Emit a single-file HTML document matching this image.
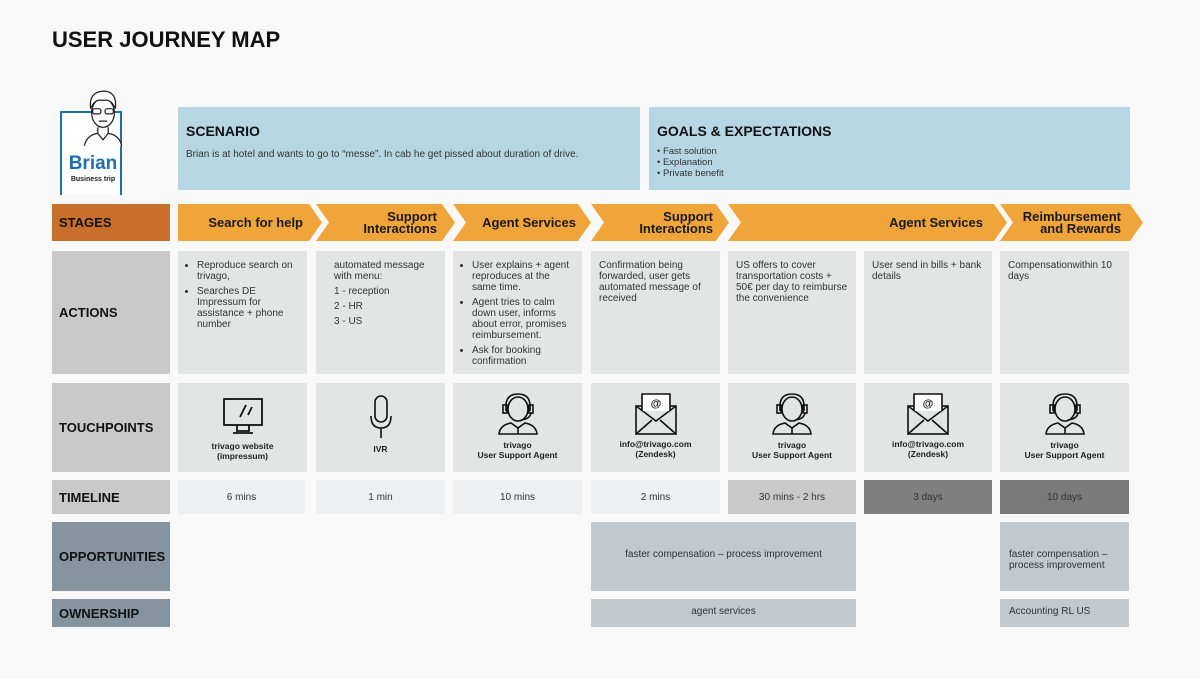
<!DOCTYPE html>
<html><head><meta charset="utf-8"><style>
*{margin:0;padding:0;box-sizing:border-box}
body{width:1200px;height:679px;background:#f9f9f9;font-family:"Liberation Sans",sans-serif;position:relative;overflow:hidden;color:#222}
.a{position:absolute}
.lab{position:absolute;left:52px;width:118px;font-size:13px;color:#111;padding-left:7px;display:flex;align-items:center;font-weight:bold}
.cell{position:absolute;background:#e3e4e4;font-size:10px;line-height:11px;color:#333}
.arr{position:absolute;top:204px;height:37px;background:#f0a53a;color:#1a1a1a;font-size:13px;font-weight:bold;line-height:12px;display:flex;align-items:center;justify-content:flex-end;text-align:right}
.tl{position:absolute;top:480px;height:34px;font-size:10px;display:flex;align-items:center;justify-content:center;color:#333}
ul{padding-left:11px}li{margin-bottom:4px}
.tp{position:absolute;top:383px;height:89px;background:#e3e4e4;text-align:center;font-size:8.5px;font-weight:bold;line-height:10px;color:#222}
.tp svg{display:block;margin:12px auto 4px}
</style></head><body>
<div class="a" style="left:52px;top:27px;font-size:22px;font-weight:bold;color:#111">USER JOURNEY MAP</div>
<div class="a" style="left:60px;top:111px;width:62px;height:84px;border:2px solid #1e6fb0;border-bottom:none;background:#fff"></div>
<svg class="a" style="left:78px;top:88px" width="50" height="60" viewBox="0 0 44 58"><g fill="#fff" stroke="#222" stroke-width="1.2"><path d="M4 56 Q6 46 16 44 L28 44 Q38 46 40 56"/><path d="M17 38 v6 l5 6 5-6 v-6"/><ellipse cx="22" cy="24" rx="11" ry="14"/><path d="M10 20 Q8 4 22 3 Q36 3 34 20 Q30 10 22 12 Q14 10 10 20z"/><rect x="12" y="20" width="8" height="5" rx="2"/><rect x="24" y="20" width="8" height="5" rx="2"/><path d="M18 32 h8"/></g></svg>
<div class="a" style="left:60px;top:153px;width:66px;text-align:center;color:#1e6fb0;font-weight:bold;font-size:19px">Brian</div>
<div class="a" style="left:60px;top:176px;width:66px;text-align:center;font-size:7px;font-weight:bold">Business trip</div>
<div class="a" style="left:178px;top:107px;width:462px;height:83px;background:#b5d6e2;padding:16px 8px">
<div style="font-size:14px;font-weight:bold;color:#111">SCENARIO</div>
<div style="font-size:10px;margin-top:10px;color:#333">Brian is at hotel and wants to go to “messe”. In cab he get pissed about duration of drive.</div></div>
<div class="a" style="left:649px;top:107px;width:481px;height:83px;background:#b5d6e2;padding:16px 8px">
<div style="font-size:14px;font-weight:bold;color:#111">GOALS &amp; EXPECTATIONS</div>
<div style="font-size:9.5px;margin-top:7px;line-height:11px;color:#333">• Fast solution<br>• Explanation<br>• Private benefit</div></div>

<div class="lab" style="top:204px;height:37px;background:#c8702b">STAGES</div>
<div class="lab" style="top:251px;height:123px;background:#c9c9c9">ACTIONS</div>
<div class="lab" style="top:383px;height:89px;background:#c9c9c9">TOUCHPOINTS</div>
<div class="lab" style="top:480px;height:34px;background:#c9c9c9">TIMELINE</div>
<div class="lab" style="top:522px;height:69px;background:#85949e">OPPORTUNITIES</div>
<div class="lab" style="top:599px;height:28px;background:#85949e">OWNERSHIP</div>

<div class="arr" style="left:178px;width:144px;clip-path:polygon(0 0,131px 0,100% 50%,131px 100%,0 100%);padding-right:19px">Search for help</div>
<div class="arr" style="left:316px;width:139px;clip-path:polygon(0 0,126px 0,100% 50%,126px 100%,0 100%,13px 50%);padding-right:18px">Support<br>Interactions</div>
<div class="arr" style="left:453px;width:138px;clip-path:polygon(0 0,125px 0,100% 50%,125px 100%,0 100%,13px 50%);padding-right:15px">Agent Services</div>
<div class="arr" style="left:591px;width:138px;clip-path:polygon(0 0,125px 0,100% 50%,125px 100%,0 100%,13px 50%);padding-right:16px">Support<br>Interactions</div>
<div class="arr" style="left:728px;width:279px;clip-path:polygon(0 0,266px 0,100% 50%,266px 100%,0 100%,13px 50%);padding-right:24px">Agent Services</div>
<div class="arr" style="left:1000px;width:143px;clip-path:polygon(0 0,130px 0,100% 50%,130px 100%,0 100%,13px 50%);padding-right:22px">Reimbursement<br>and Rewards</div>

<div class="cell" style="left:178px;top:251px;width:129px;height:123px;padding:9px 8px 0 8px"><ul><li>Reproduce search on trivago,</li><li>Searches DE Impressum for assistance + phone number</li></ul></div>
<div class="cell" style="left:316px;top:251px;width:129px;height:123px;padding:9px 18px">automated message with menu:<div style="margin-top:4px">1 - reception</div><div style="margin-top:4px">2 - HR</div><div style="margin-top:4px">3 - US</div></div>
<div class="cell" style="left:453px;top:251px;width:129px;height:123px;padding:9px 8px"><ul><li>User explains + agent reproduces at the same time.</li><li>Agent tries to calm down user, informs about error, promises reimbursement.</li><li>Ask for booking confirmation</li></ul></div>
<div class="cell" style="left:591px;top:251px;width:129px;height:123px;padding:9px 8px">Confirmation being forwarded, user gets automated message of received</div>
<div class="cell" style="left:728px;top:251px;width:128px;height:123px;padding:9px 8px">US offers to cover transportation costs + 50€ per day to reimburse the convenience</div>
<div class="cell" style="left:864px;top:251px;width:128px;height:123px;padding:9px 8px">User send in bills + bank details</div>
<div class="cell" style="left:1000px;top:251px;width:129px;height:123px;padding:9px 8px">Compensationwithin 10 days</div>

<svg width="0" height="0" style="position:absolute"><defs>
<g id="mail" fill="none" stroke="#111" stroke-width="1.6"><rect x="1" y="13" width="40" height="28"/><path d="M1 13 L21 28 L41 13 M1 41 L17 27 M41 41 L25 27"/><path d="M7 18 V1 H35 V18" fill="#fff"/><text x="21" y="14" font-size="11" text-anchor="middle" fill="#111" stroke="none" font-family="Liberation Sans">@</text></g>
<g id="agent" fill="none" stroke="#111" stroke-width="1.6"><ellipse cx="21" cy="17" rx="10" ry="12"/><path d="M9 19 V14 Q9 2 21 2 Q33 2 33 14 V19"/><rect x="6" y="13" width="4" height="8"/><rect x="32" y="13" width="4" height="8"/><path d="M34 21 Q33 27 24 28"/><path d="M2 42 Q3 33 14 31 L21 36 L28 31 Q39 33 40 42 Z"/><path d="M21 36 v6"/></g>
</defs></svg>
<div class="tp" style="left:178px;width:129px"><svg width="42" height="40" viewBox="0 0 42 40" style="margin-top:14px"><g fill="none" stroke="#111" stroke-width="1.8"><rect x="2" y="2" width="38" height="26"/><path d="M15 28 v6 h12 v-6 M11 36 h20"/><path d="M24 8 l-6 12 M30 10 l-4 8"/></g></svg><div style="margin-top:4px">trivago website<br>(impressum)</div></div>
<div class="tp" style="left:316px;width:129px"><svg width="24" height="46" viewBox="0 0 24 46" style="margin-top:11px"><g fill="none" stroke="#111" stroke-width="1.6"><rect x="6" y="2" width="12" height="26" rx="6"/><path d="M2 22 Q2 34 12 34 Q22 34 22 22 M12 34 v10"/></g></svg><div style="margin-top:2px">IVR</div></div>
<div class="tp" style="left:453px;width:129px"><svg width="42" height="44" viewBox="0 0 42 44" style="margin-top:9px"><use href="#agent"/></svg>trivago<br>User Support Agent</div>
<div class="tp" style="left:591px;width:129px"><svg width="42" height="42" viewBox="0 0 42 42" style="margin-top:10px"><use href="#mail"/></svg>info@trivago.com<br>(Zendesk)</div>
<div class="tp" style="left:728px;width:128px"><svg width="42" height="44" viewBox="0 0 42 44" style="margin-top:9px"><use href="#agent"/></svg>trivago<br>User Support Agent</div>
<div class="tp" style="left:864px;width:128px"><svg width="42" height="42" viewBox="0 0 42 42" style="margin-top:10px"><use href="#mail"/></svg>info@trivago.com<br>(Zendesk)</div>
<div class="tp" style="left:1000px;width:129px"><svg width="42" height="44" viewBox="0 0 42 44" style="margin-top:9px"><use href="#agent"/></svg>trivago<br>User Support Agent</div>

<div class="tl" style="left:178px;width:127px;background:#eeeff0">6 mins</div>
<div class="tl" style="left:316px;width:129px;background:#eeeff0">1 min</div>
<div class="tl" style="left:453px;width:129px;background:#eeeff0">10 mins</div>
<div class="tl" style="left:591px;width:129px;background:#eeeff0">2 mins</div>
<div class="tl" style="left:728px;width:128px;background:#c9c9c9">30 mins - 2 hrs</div>
<div class="tl" style="left:864px;width:128px;background:#7f7f7f">3 days</div>
<div class="tl" style="left:1000px;width:129px;background:#7a7a7a">10 days</div>

<div class="cell" style="left:591px;top:522px;width:265px;height:69px;background:#c1c8ce;text-align:center;padding-top:27px">faster compensation – process improvement</div>
<div class="cell" style="left:1000px;top:522px;width:129px;height:69px;background:#c1c8ce;padding:27px 9px 0">faster compensation – process improvement</div>
<div class="cell" style="left:591px;top:599px;width:265px;height:28px;background:#c1c8ce;text-align:center;padding-top:7px">agent services</div>
<div class="cell" style="left:1000px;top:599px;width:129px;height:28px;background:#c1c8ce;padding:7px 9px 0">Accounting RL US</div>
</body></html>
